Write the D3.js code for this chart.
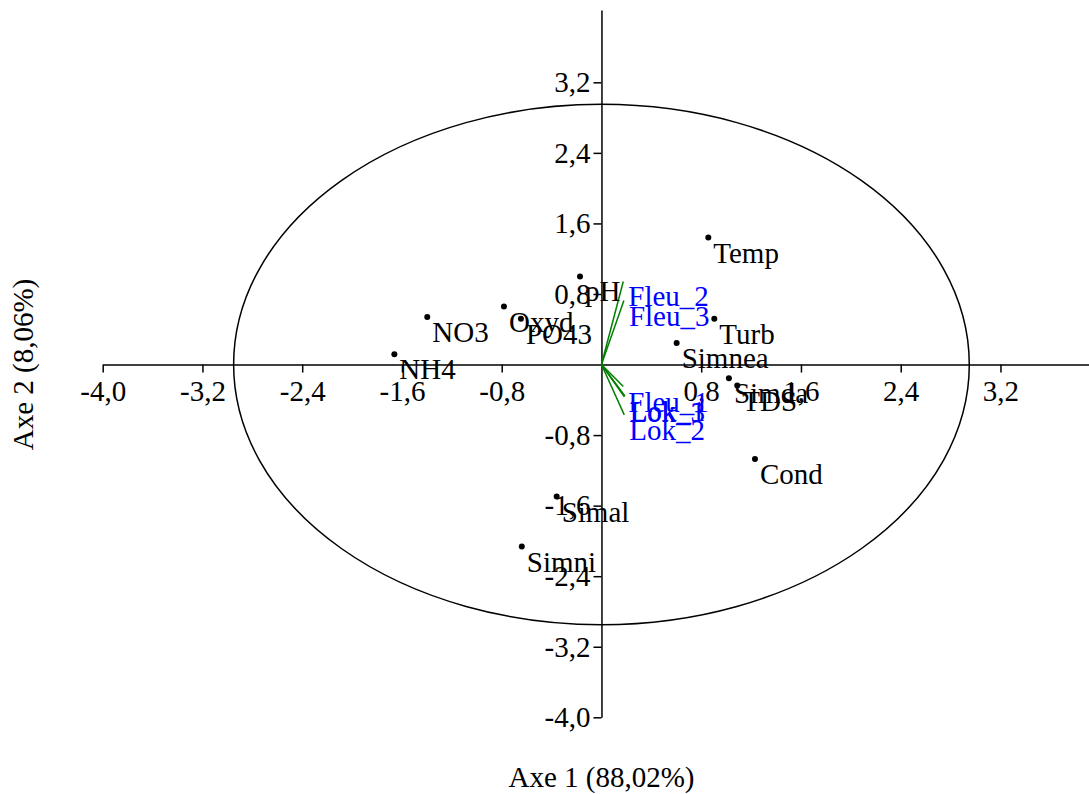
<!DOCTYPE html>
<html>
<head>
<meta charset="utf-8">
<script src="https://cdn.jsdelivr.net/npm/d3@7"></script>
<style>
  body { margin: 0; background: #fff; }
  svg { display: block; }
  text { font-family: "Liberation Serif", "Times New Roman", serif; }
</style>
</head>
<body>
<svg id="chart" width="1089" height="794"></svg>
<script>
// Variables (black points) - coordinates on axe 1 / axe 2
const varNames = ['Temp', 'pH', 'Oxyd', 'PO43', 'NO3', 'NH4', 'Turb', 'Simnea', 'Simda', 'TDS', 'Cond', 'Simal', 'Simni'];
const varAxis1 = [0.857, -0.172, -0.782, -0.646, -1.397, -1.661, 0.905, 0.603, 1.022, 1.089, 1.231, -0.359, -0.639];
const varAxis2 = [1.440, 0.999, 0.658, 0.519, 0.538, 0.118, 0.518, 0.243, -0.155, -0.238, -1.070, -1.497, -2.064];

// Sites (green vectors with blue labels)
const siteNames = ['Fleu_2', 'Fleu_3', 'Fleu_1', 'Lok_1', 'Lok_3', 'Lok_2'];
const siteAxis1 = [0.175, 0.180, 0.175, 0.188, 0.184, 0.183];
const siteAxis2 = [0.942, 0.726, -0.250, -0.355, -0.366, -0.571];

const xTicks = [-4.0, -3.2, -2.4, -1.6, -0.8, 0.8, 1.6, 2.4, 3.2];
const yTicks = [-4.0, -3.2, -2.4, -1.6, -0.8, 0.8, 1.6, 2.4, 3.2];
const circleRadius = 2.95;

const xTitle = 'Axe 1 (88,02%)';
const yTitle = 'Axe 2 (8,06%)';

const width = 1089, height = 794;
const fontSize = 29;

const svg = d3.select('#chart');

const x = d3.scaleLinear().domain([-4, 3.91]).range([102.7, width]);
const y = d3.scaleLinear().domain([-4, 4.02]).range([717.3, 10]);

const fmt = d => d3.format('.1f')(d).replace('.', ',').replace('−', '-');

// Correlation circle
svg.append('ellipse')
    .attr('cx', x(0))
    .attr('cy', y(0))
    .attr('rx', x(circleRadius) - x(0))
    .attr('ry', y(0) - y(circleRadius))
    .attr('fill', 'none')
    .attr('stroke', '#000')
    .attr('stroke-width', 1.5);

// Axes
const xAxis = svg.append('g')
    .attr('transform', `translate(0,${y(0)})`)
    .call(d3.axisBottom(x).tickValues(xTicks).tickFormat(fmt).tickSize(8).tickSizeOuter(0).tickPadding(8));

const yAxis = svg.append('g')
    .attr('transform', `translate(${x(0)},0)`)
    .call(d3.axisLeft(y).tickValues(yTicks).tickFormat(fmt).tickSize(8).tickSizeOuter(0).tickPadding(3));

[xAxis, yAxis].forEach(g => {
    g.attr('font-family', null).attr('font-size', null);
    g.selectAll('path, line').attr('stroke', '#000').attr('stroke-width', 1.5);
    g.selectAll('text')
        .attr('fill', '#000')
        .style('font-size', fontSize + 'px');
});

// Site vectors
const sites = siteNames.map((name, i) => ({ name, a1: siteAxis1[i], a2: siteAxis2[i] }));

svg.append('g').selectAll('line')
    .data(sites)
    .join('line')
    .attr('x1', x(0))
    .attr('y1', y(0))
    .attr('x2', d => x(d.a1))
    .attr('y2', d => y(d.a2))
    .attr('stroke', '#008000')
    .attr('stroke-width', 1.5);

svg.append('g').selectAll('text')
    .data(sites)
    .join('text')
    .attr('x', d => x(d.a1) + 5)
    .attr('y', d => y(d.a2) + 25)
    .attr('fill', '#0000ff')
    .style('font-size', fontSize + 'px')
    .text(d => d.name);

// Variable points
const vars = varNames.map((name, i) => ({ name, a1: varAxis1[i], a2: varAxis2[i] }));

svg.append('g').selectAll('circle')
    .data(vars)
    .join('circle')
    .attr('cx', d => x(d.a1))
    .attr('cy', d => y(d.a2))
    .attr('r', 3)
    .attr('fill', '#000');

svg.append('g').selectAll('text')
    .data(vars)
    .join('text')
    .attr('x', d => x(d.a1) + 5)
    .attr('y', d => y(d.a2) + 25)
    .attr('fill', '#000')
    .style('font-size', fontSize + 'px')
    .text(d => d.name);

// Axis titles
svg.append('text')
    .attr('x', x(0))
    .attr('y', 787)
    .attr('text-anchor', 'middle')
    .style('font-size', fontSize + 'px')
    .text(xTitle);

svg.append('text')
    .attr('transform', `translate(33,${y(0)}) rotate(-90)`)
    .attr('text-anchor', 'middle')
    .style('font-size', fontSize + 'px')
    .text(yTitle);
</script>
</body>
</html>
